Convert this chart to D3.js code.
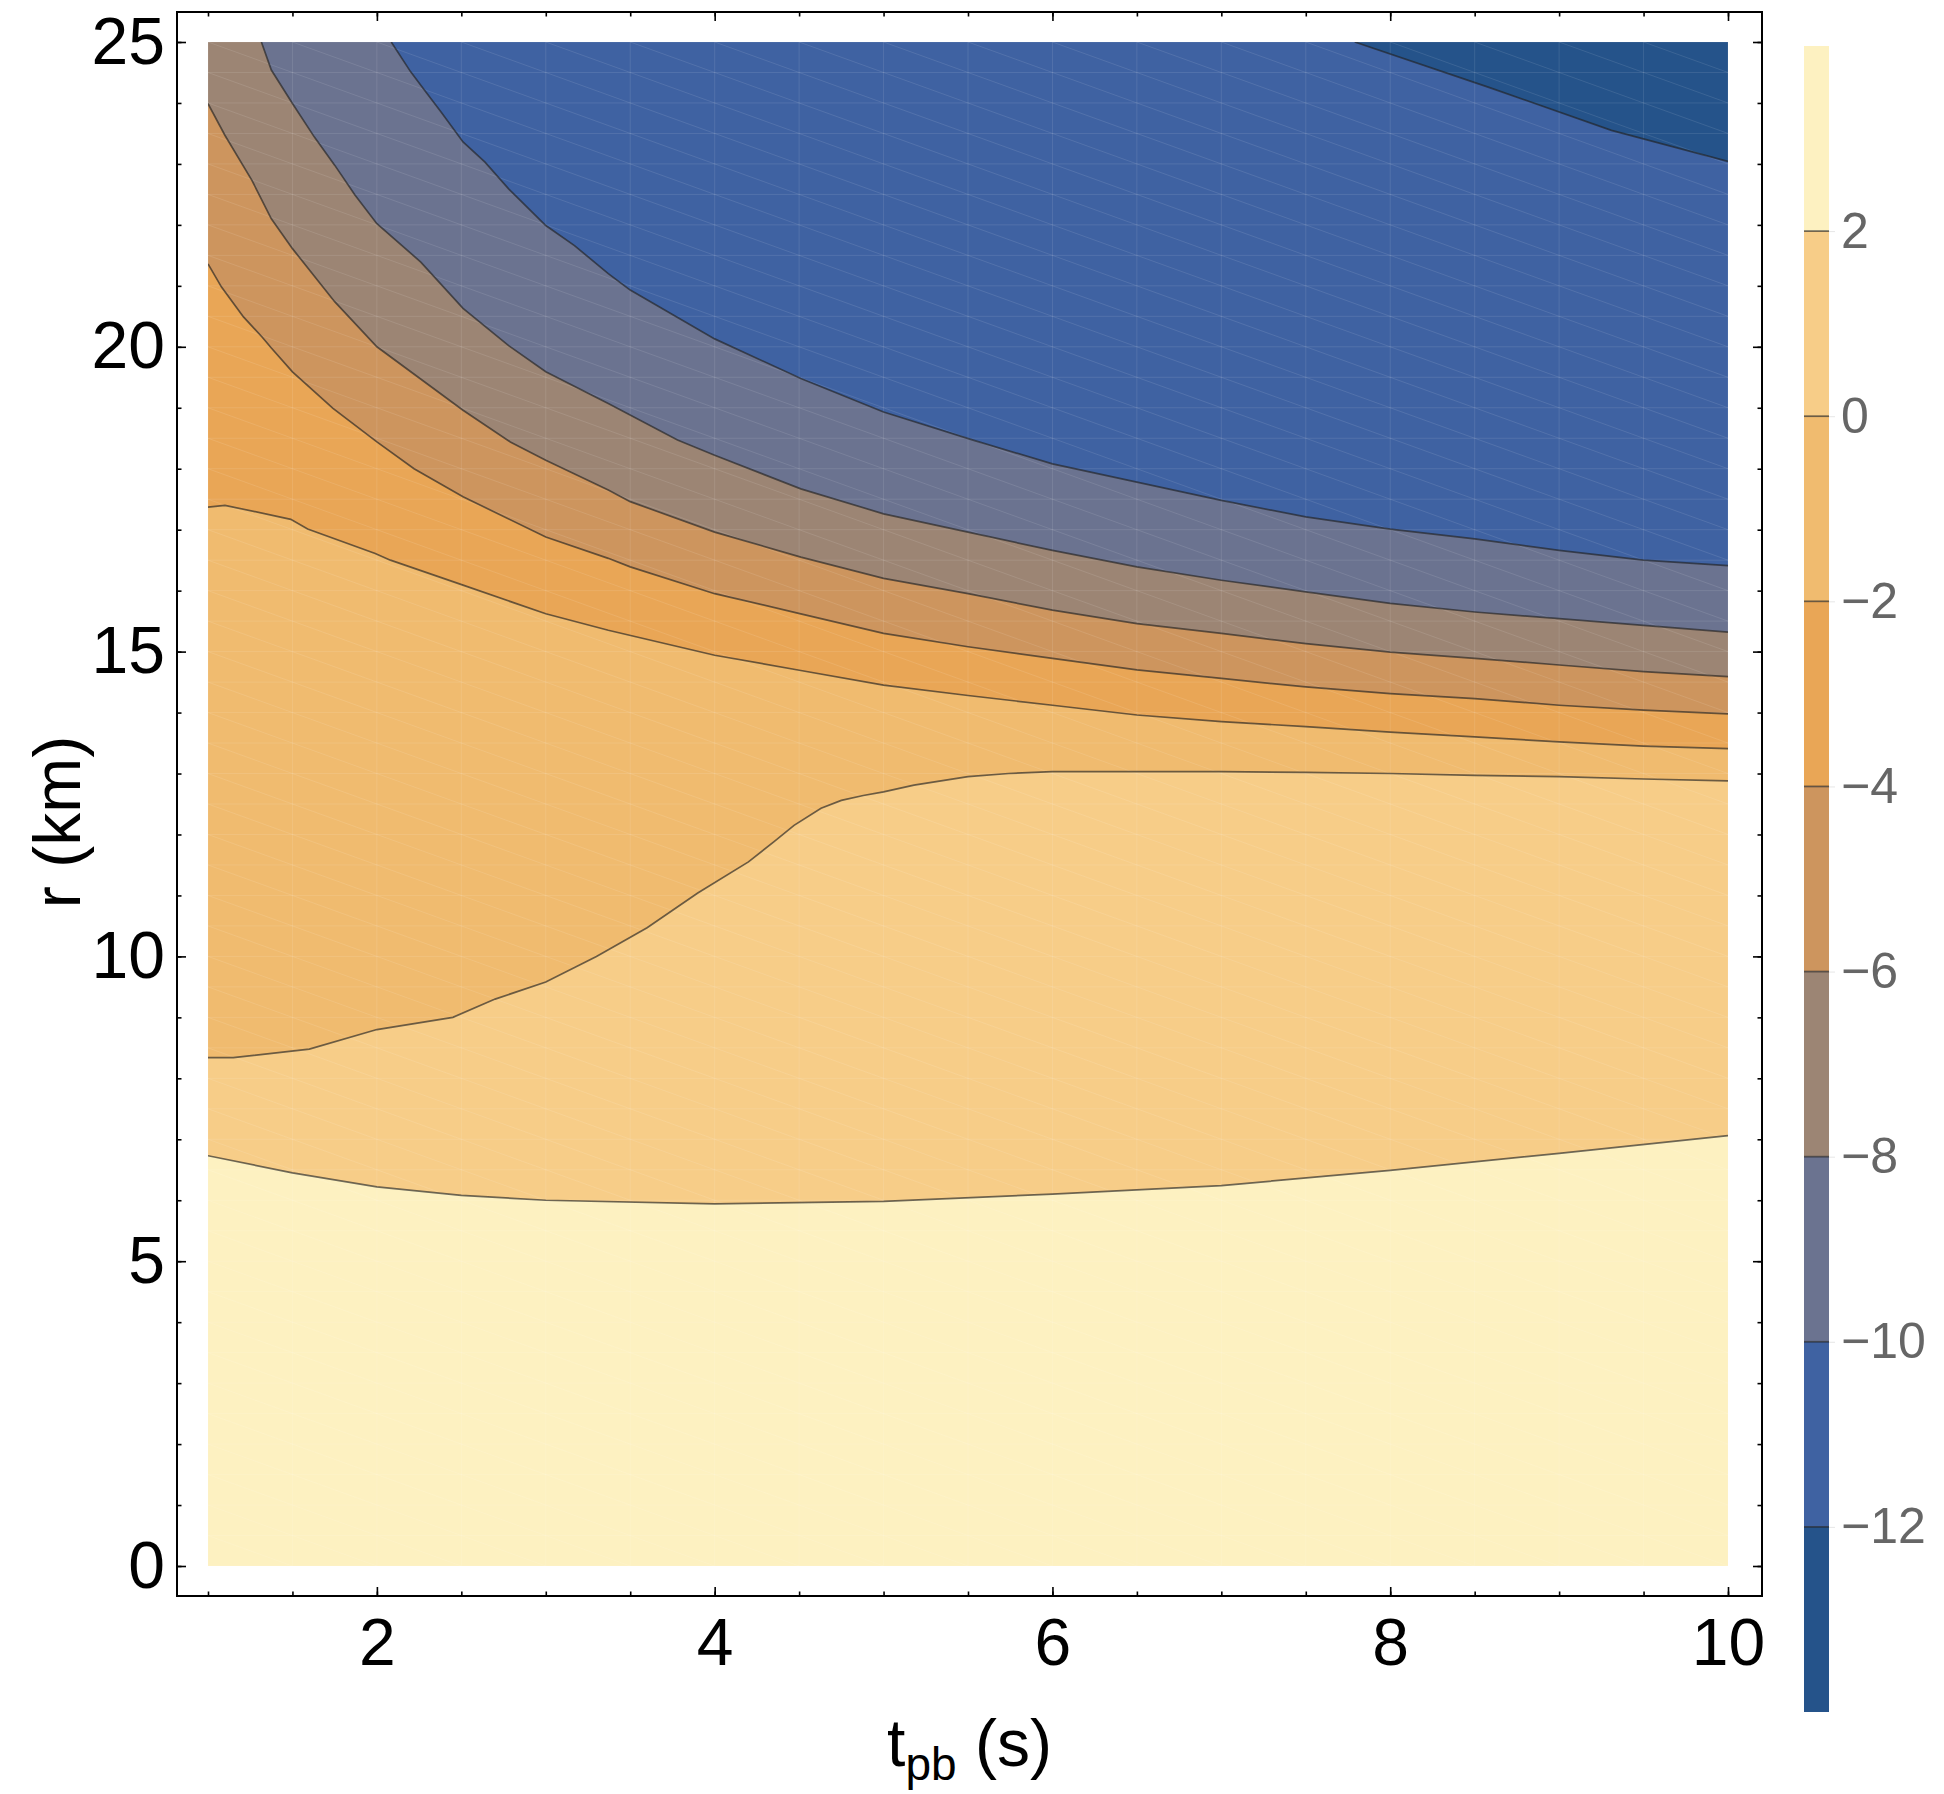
<!DOCTYPE html>
<html>
<head>
<meta charset="utf-8">
<script src="https://cdn.jsdelivr.net/npm/d3@7"></script>
<style>
  body { margin: 0; background: #fff; }
  text { font-family: "Liberation Sans", Arial, sans-serif; }
</style>
</head>
<body>
<div class="chart"></div>
<script>
// contour levels, top to bottom of the colour bar
var levels = [2, 0, -2, -4, -6, -8, -10, -12];
var topColor = "#fdf1c1";               // values above 2
var bandColors = ["#f7cd88", "#f0bb6f", "#e9a656", "#cd955e",
                  "#9c8574", "#6b7390", "#3f62a2", "#25538a"]; // values below each level

// contour lines, as [t_pb (s), r (km)]
var line2 = [[1, 6.73], [1.5, 6.45], [2, 6.22], [2.5, 6.08], [3, 6.0], [4, 5.94], [5, 5.98],
             [6, 6.1], [7, 6.24], [8, 6.49], [9, 6.77], [10, 7.06]];
var line0 = [[1, 8.34], [1.15, 8.34], [1.6, 8.48], [2, 8.8], [2.45, 9.0], [2.7, 9.3], [3, 9.58],
             [3.3, 10.0], [3.6, 10.47], [3.9, 11.04], [4.2, 11.55], [4.35, 11.88], [4.47, 12.15],
             [4.63, 12.43], [4.75, 12.56], [4.88, 12.64], [5.0, 12.7], [5.18, 12.81], [5.5, 12.95],
             [5.74, 13.0], [6, 13.03], [7, 13.03], [7.5, 13.02], [8, 13.0], [8.5, 12.97],
             [9, 12.95], [9.5, 12.91], [10, 12.88]];
var lineM2 = [[1, 17.37], [1.1, 17.4], [1.49, 17.17], [1.59, 17.01], [1.99, 16.61], [2.08, 16.5],
              [2.51, 16.09], [3.0, 15.62], [3.37, 15.35], [4, 14.94], [4.51, 14.69], [5, 14.45],
              [5.5, 14.28], [6, 14.12], [6.5, 13.96], [7, 13.85], [7.5, 13.77], [8, 13.68],
              [8.5, 13.6], [9, 13.52], [9.5, 13.45], [10, 13.41]];
var lineM4 = [[1, 21.36], [1.08, 20.98], [1.21, 20.49], [1.32, 20.16], [1.375, 19.98], [1.5, 19.59],
              [1.74, 18.99], [2.0, 18.44], [2.22, 18.0], [2.51, 17.54], [3.0, 16.88], [3.37, 16.53],
              [3.5, 16.39], [4, 15.95], [4.51, 15.62], [5, 15.3], [5.5, 15.08], [6, 14.89],
              [6.5, 14.7], [7, 14.56], [7.5, 14.42], [8, 14.31], [8.5, 14.23], [9, 14.12],
              [9.5, 14.04], [10, 13.98]];
var lineM6 = [[1, 23.99], [1.1, 23.47], [1.26, 22.73], [1.375, 22.1], [1.5, 21.61], [1.75, 20.74],
              [2.0, 20.0], [2.51, 18.96], [2.79, 18.44], [3.0, 18.14], [3.37, 17.65], [3.5, 17.46],
              [4.0, 16.96], [4.51, 16.55], [5.0, 16.2], [5.5, 15.95], [6, 15.68], [6.5, 15.46],
              [7, 15.3], [7.5, 15.13], [8, 14.99], [8.5, 14.89], [9, 14.78], [9.5, 14.67], [10, 14.59]];
var lineM8 = [[1.316, 25], [1.375, 24.54], [1.5, 23.99], [1.63, 23.44], [1.75, 22.98], [1.87, 22.49],
              [2.0, 22.02], [2.26, 21.39], [2.51, 20.63], [2.78, 20.02], [3.0, 19.59], [3.37, 19.07],
              [3.78, 18.47], [4.0, 18.22], [4.51, 17.67], [5, 17.26], [5.5, 16.96], [6, 16.66],
              [6.5, 16.39], [7, 16.17], [7.5, 15.98], [8, 15.79], [8.5, 15.65], [9, 15.54],
              [9.5, 15.43], [10, 15.32]];
var lineM10 = [[2.085, 25], [2.2, 24.51], [2.29, 24.18], [2.38, 23.85], [2.51, 23.36], [2.64, 23.03],
               [2.78, 22.59], [3.0, 21.99], [3.17, 21.66], [3.37, 21.2], [3.5, 20.93], [4, 20.13],
               [4.51, 19.48], [5, 18.93], [5.54, 18.46], [6, 18.08], [6.5, 17.78], [7, 17.48],
               [7.5, 17.21], [8, 17.01], [8.5, 16.85], [9, 16.66], [9.5, 16.5], [10, 16.41]];
var lineM12 = [[7.79, 25], [8.58, 24.26], [9.31, 23.55], [10, 23.04]];
var contourLines = [line2, line0, lineM2, lineM4, lineM6, lineM8, lineM10, lineM12];

// axis ticks
var xMajor = [2, 4, 6, 8, 10];
var xMinor = d3.range(1, 10.01, 0.5);
var yMajor = [0, 5, 10, 15, 20, 25];
var yMinor = d3.range(0, 25.01, 1);

var svgWidth = 1944, svgHeight = 1794;

var svg = d3.select(".chart").append("svg")
  .attr("width", svgWidth)
  .attr("height", svgHeight);

var x = d3.scaleLinear().domain([1, 10]).range([208, 1728]);
var y = d3.scaleLinear().domain([0, 25]).range([1566, 42]);

// frame padding around the data, in data units
var xFrame = [x.invert(177), x.invert(1762)];
var yFrame = [y.invert(1596), y.invert(12)];

svg.append("clipPath").attr("id", "plotClip")
  .append("rect")
  .attr("x", x(1)).attr("y", y(25))
  .attr("width", x(10) - x(1)).attr("height", y(0) - y(25));

var plot = svg.append("g").attr("clip-path", "url(#plotClip)");

// base fill (values above the top level)
plot.append("rect")
  .attr("x", x(1)).attr("y", y(25))
  .attr("width", x(10) - x(1)).attr("height", y(0) - y(25))
  .attr("fill", topColor);

var lineGen = d3.line().x(d => x(d[0])).y(d => y(d[1]));

// each band: everything above a contour line is below that level
contourLines.forEach(function(pts, i) {
  var poly = pts.concat([[10, 25], [pts[0][0], 25]]);
  plot.append("path")
    .attr("d", lineGen(poly) + "Z")
    .attr("fill", bandColors[i]);
});

// faint mesh lines like the original rendering
var mesh = plot.append("g").attr("stroke", "#fff").attr("stroke-opacity", 0.1).attr("stroke-width", 1);
xMinor.forEach(function(t) {
  mesh.append("line").attr("x1", x(t)).attr("x2", x(t)).attr("y1", y(0)).attr("y2", y(25));
});
d3.range(0, 25.01, 0.5).forEach(function(r) {
  mesh.append("line").attr("x1", x(1)).attr("x2", x(10)).attr("y1", y(r)).attr("y2", y(r));
});
d3.range(0.5, 10, 0.5).forEach(function(t) {
  d3.range(0, 25, 1).forEach(function(r) {
    mesh.append("line").attr("x1", x(t)).attr("y1", y(r + 1)).attr("x2", x(t + 1)).attr("y2", y(r));
  });
});

// contour lines
contourLines.forEach(function(pts) {
  plot.append("path")
    .attr("d", lineGen(pts))
    .attr("fill", "none")
    .attr("stroke", "#222")
    .attr("stroke-opacity", 0.65)
    .attr("stroke-width", 1.7);
});

// frame
svg.append("rect")
  .attr("x", x(xFrame[0])).attr("y", y(yFrame[1]))
  .attr("width", x(xFrame[1]) - x(xFrame[0]))
  .attr("height", y(yFrame[0]) - y(yFrame[1]))
  .attr("fill", "none")
  .attr("stroke", "#000")
  .attr("stroke-width", 2);

function styleAxis(g) {
  g.select(".domain").remove();
  g.selectAll(".tick line").attr("stroke", "#000").attr("stroke-width", 1.6);
}

var fontSize = 66;

// bottom
svg.append("g").attr("transform", `translate(0, ${y(yFrame[0])})`)
  .call(d3.axisBottom(x).tickValues(xMinor).tickSize(-4.5).tickFormat(""))
  .call(styleAxis);
svg.append("g").attr("transform", `translate(0, ${y(yFrame[0])})`)
  .call(d3.axisBottom(x).tickValues(xMajor).tickSize(-9).tickPadding(22).tickFormat(d3.format("d")))
  .call(styleAxis)
  .selectAll("text").attr("font-size", fontSize).attr("fill", "#000")
  .style("font-family", '"Liberation Sans", Arial, sans-serif');

// top
svg.append("g").attr("transform", `translate(0, ${y(yFrame[1])})`)
  .call(d3.axisTop(x).tickValues(xMinor).tickSize(-4.5).tickFormat(""))
  .call(styleAxis);
svg.append("g").attr("transform", `translate(0, ${y(yFrame[1])})`)
  .call(d3.axisTop(x).tickValues(xMajor).tickSize(-9).tickFormat(""))
  .call(styleAxis);

// left
svg.append("g").attr("transform", `translate(${x(xFrame[0])}, 0)`)
  .call(d3.axisLeft(y).tickValues(yMinor).tickSize(-4.5).tickFormat(""))
  .call(styleAxis);
svg.append("g").attr("transform", `translate(${x(xFrame[0])}, 0)`)
  .call(d3.axisLeft(y).tickValues(yMajor).tickSize(-9).tickPadding(12).tickFormat(d3.format("d")))
  .call(styleAxis)
  .selectAll("text").attr("font-size", fontSize).attr("fill", "#000")
  .style("font-family", '"Liberation Sans", Arial, sans-serif');

// right
svg.append("g").attr("transform", `translate(${x(xFrame[1])}, 0)`)
  .call(d3.axisRight(y).tickValues(yMinor).tickSize(-4.5).tickFormat(""))
  .call(styleAxis);
svg.append("g").attr("transform", `translate(${x(xFrame[1])}, 0)`)
  .call(d3.axisRight(y).tickValues(yMajor).tickSize(-9).tickFormat(""))
  .call(styleAxis);

// axis labels
var xLabel = svg.append("text")
  .attr("x", (x(xFrame[0]) + x(xFrame[1])) / 2)
  .attr("y", 1766)
  .attr("text-anchor", "middle")
  .attr("font-size", fontSize);
xLabel.append("tspan").text("t");
xLabel.append("tspan").attr("font-size", 46).attr("dy", 14).text("pb");
xLabel.append("tspan").attr("dy", -14).text(" (s)");

svg.append("text")
  .attr("transform", `translate(80, ${(y(yFrame[0]) + y(yFrame[1])) / 2 + 18}) rotate(-90)`)
  .attr("text-anchor", "middle")
  .attr("font-size", fontSize)
  .text("r (km)");

// colour bar
var cb = d3.scaleLinear().domain([-14, 4]).range([1712, 46]);
var cbX = 1804, cbW = 25;
var cbEdges = [4].concat(levels).concat([-14]);
var cbColors = [topColor].concat(bandColors);
var bar = svg.append("g");
cbColors.forEach(function(c, i) {
  bar.append("rect")
    .attr("x", cbX).attr("width", cbW)
    .attr("y", cb(cbEdges[i])).attr("height", cb(cbEdges[i + 1]) - cb(cbEdges[i]))
    .attr("fill", c);
});
levels.forEach(function(l) {
  bar.append("line")
    .attr("x1", cbX).attr("x2", cbX + cbW)
    .attr("y1", cb(l)).attr("y2", cb(l))
    .attr("stroke", "#222").attr("stroke-opacity", 0.65).attr("stroke-width", 1.7);
});
svg.append("g").attr("transform", `translate(${cbX + cbW}, 0)`)
  .call(d3.axisRight(cb).tickValues(levels).tickSize(6).tickPadding(6).tickFormat(d3.format("d")))
  .call(function(g) {
    g.select(".domain").remove();
    g.selectAll(".tick line").attr("stroke", "#e6e6e6").attr("stroke-width", 1);
    g.selectAll("text").attr("font-size", 50).attr("fill", "#666")
      .style("font-family", '"Liberation Sans", Arial, sans-serif');
  });
</script>
</body>
</html>
